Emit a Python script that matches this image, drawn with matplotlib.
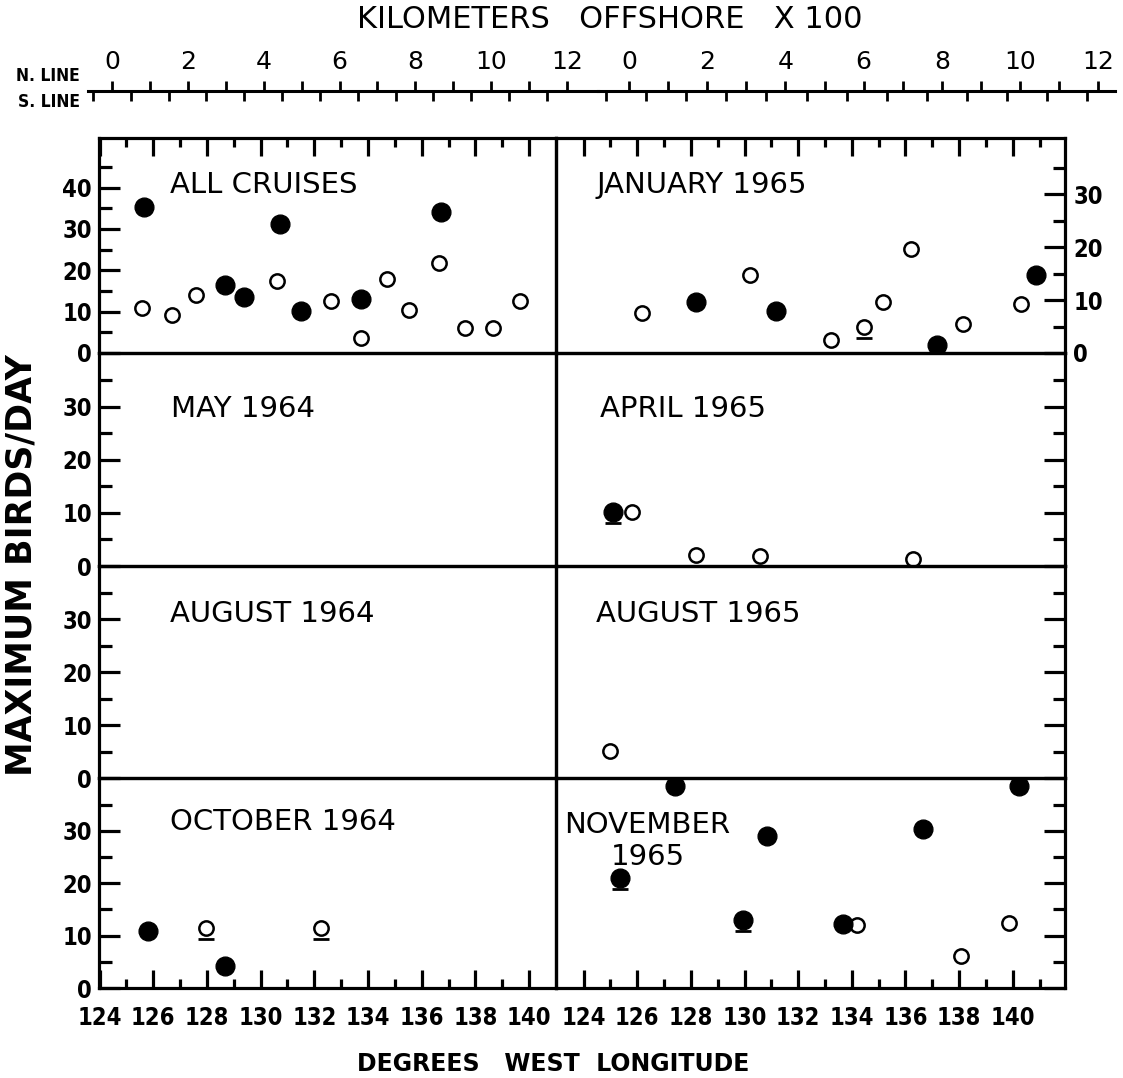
import matplotlib
matplotlib.use("Agg")
import matplotlib.pyplot as plt
from matplotlib.transforms import ScaledTranslation
from matplotlib.ticker import FixedLocator, NullFormatter

W, H, DPI = 1123, 1078, 100

# ---------------- data (longitude °W, maximum birds/day) ----------------
all_open_lon = [125.58, 126.69, 127.6, 130.6, 132.63, 133.74, 134.7, 135.53, 136.64, 137.6, 138.65, 139.66]
all_open_val = [11.0, 9.2, 14.0, 17.5, 12.6, 3.6, 18.0, 10.4, 21.7, 6.0, 6.0, 12.6]
all_fill_lon = [125.67, 128.66, 129.37, 130.72, 131.5, 133.74, 136.7]
all_fill_val = [35.2, 16.5, 13.6, 31.2, 10.2, 13.0, 34.0]

jan_open_lon = [126.17, 130.22, 133.21, 134.44, 135.15, 136.19, 138.14, 140.3]
jan_open_val = [7.6, 14.7, 2.4, 4.9, 9.6, 19.6, 5.4, 9.2]
jan_open_und = [0, 0, 0, 1, 0, 0, 0, 0]
jan_fill_lon = [128.2, 131.16, 137.18, 140.86]
jan_fill_val = [9.6, 7.9, 1.6, 14.8]

apr_open_lon = [125.79, 128.18, 130.57, 136.29]
apr_open_val = [10.1, 2.1, 1.9, 1.3]
apr_fill_lon = [125.11]
apr_fill_val = [10.2]
apr_fill_und = [1]

aug65_open_lon = [124.98]
aug65_open_val = [5.1]

oct_open_lon = [127.97, 132.24]
oct_open_val = [11.4, 11.5]
oct_open_und = [1, 1]
oct_fill_lon = [125.79, 128.69]
oct_fill_val = [10.9, 4.2]

nov_open_lon = [134.2, 138.06, 139.88]
nov_open_val = [12.1, 6.2, 12.4]
nov_fill_lon = [125.35, 127.42, 129.94, 130.83, 133.69, 136.65, 140.25]
nov_fill_val = [21.0, 38.6, 12.9, 29.1, 12.3, 30.4, 38.6]
nov_fill_und = [1, 0, 1, 0, 0, 0, 0]

titles = [["ALL CRUISES", "JANUARY 1965"],
          ["MAY 1964", "APRIL 1965"],
          ["AUGUST 1964", "AUGUST 1965"],
          ["OCTOBER 1964", "NOVEMBER\n1965"]]

lon_major = [124, 126, 128, 130, 132, 134, 136, 138, 140]
lon_minor = [125, 127, 129, 131, 133, 135, 137, 139, 141]
km_major = [0, 2, 4, 6, 8, 10, 12]
km_all = list(range(0, 13))

# ---------------- layout ----------------
fig = plt.figure(figsize=(W / DPI, H / DPI), dpi=DPI)
fig.patch.set_facecolor("white")

def rect(x0, y0, x1, y1):
    return [x0 / W, 1 - y1 / H, (x1 - x0) / W, (y1 - y0) / H]

XL, XC, XR = 99, 556, 1065
ROWS = [138, 353, 566, 778, 988]
LW = 2.3
TICKFAM = ["DejaVu Sans"]
TITLEFONT = dict(family=["DejaVu Sans"], size=21)

axes = []
for r in range(4):
    row = []
    for c in range(2):
        x0, x1 = (XL, XC) if c == 0 else (XC, XR)
        ax = fig.add_axes(rect(x0, ROWS[r], x1, ROWS[r + 1]))
        ax.set_xlim((123.98, 141.0) if c == 0 else (122.97, 141.95))
        if r == 0 and c == 0:
            ax.set_ylim(0, 52)
        elif r == 0:
            ax.set_ylim(0, 40.6)
        else:
            ax.set_ylim(0, 40.1)
        for s in ax.spines.values():
            s.set_linewidth(LW)
        ax.patch.set_alpha(0)
        # x ticks
        ax.xaxis.set_major_locator(FixedLocator(lon_major))
        ax.xaxis.set_minor_locator(FixedLocator(lon_minor if c == 1 else lon_minor[:-1]))
        ax.tick_params(axis="x", which="both", direction="in", width=LW,
                       top=(r == 0), bottom=(r == 3), labeltop=False, labelbottom=(r == 3))
        ax.tick_params(axis="x", which="major", length=13, pad=13)
        ax.tick_params(axis="x", which="minor", length=6.5)
        # y ticks
        ymaj = [0, 10, 20, 30, 40] if (r == 0 and c == 0) else [0, 10, 20, 30]
        ymin = [5, 15, 25, 35, 45] if (r == 0 and c == 0) else [5, 15, 25, 35]
        ax.yaxis.set_major_locator(FixedLocator(ymaj))
        ax.yaxis.set_minor_locator(FixedLocator(ymin))
        ax.yaxis.set_minor_formatter(NullFormatter())
        if c == 0:
            ax.tick_params(axis="y", which="both", direction="in", width=LW,
                           left=True, right=False, labelleft=True, labelright=False, pad=5)
        else:
            ax.tick_params(axis="y", which="both", direction="in", width=LW,
                           left=False, right=True, labelleft=False, labelright=(r == 0), pad=6)
        ax.tick_params(axis="y", which="major", length=15)
        ax.tick_params(axis="y", which="minor", length=9)
        for lab in ax.get_xticklabels() + ax.get_yticklabels():
            lab.set_fontfamily(TICKFAM)
            lab.set_fontweight("bold")
            lab.set_fontstretch("condensed")
            lab.set_fontsize(17)
        row.append(ax)
    axes.append(row)

# titles
title_pos = {(0, 0): (0.155, 0.78), (0, 1): (0.08, 0.78),
             (1, 0): (0.157, 0.735), (1, 1): (0.086, 0.735),
             (2, 0): (0.155, 0.775), (2, 1): (0.079, 0.775),
             (3, 0): (0.155, 0.79)}
for (r, c), (tx, ty) in title_pos.items():
    axes[r][c].text(tx, ty, titles[r][c], transform=axes[r][c].transAxes,
                    ha="left", va="center", **TITLEFONT)
axes[3][1].text(0.18, 0.70, titles[3][1], transform=axes[3][1].transAxes,
                ha="center", va="center", multialignment="center",
                linespacing=1.2, **TITLEFONT)

# markers
FILL = dict(marker="o", ms=13.5, mfc="black", mec="black", mew=1, ls="none")
OPEN = dict(marker="o", ms=10.3, mfc="white", mec="black", mew=1.8, ls="none")

def draw(ax, lon, val, style, und=None):
    ax.plot(lon, val, **style)
    if und:
        ux = [x for x, u in zip(lon, und) if u]
        uy = [y for y, u in zip(val, und) if u]
        off = ScaledTranslation(0, -11 / DPI, fig.dpi_scale_trans)
        ax.plot(ux, uy, marker="_", ms=11.5, mew=2.0, color="black", ls="none",
                transform=ax.transData + off)

draw(axes[0][0], all_open_lon, all_open_val, OPEN)
draw(axes[0][0], all_fill_lon, all_fill_val, FILL)
draw(axes[0][1], jan_open_lon, jan_open_val, OPEN, jan_open_und)
draw(axes[0][1], jan_fill_lon, jan_fill_val, FILL)
draw(axes[1][1], apr_open_lon, apr_open_val, OPEN)
draw(axes[1][1], apr_fill_lon, apr_fill_val, FILL, apr_fill_und)
draw(axes[2][1], aug65_open_lon, aug65_open_val, OPEN)
draw(axes[3][0], oct_open_lon, oct_open_val, OPEN, oct_open_und)
draw(axes[3][0], oct_fill_lon, oct_fill_val, FILL)
draw(axes[3][1], nov_open_lon, nov_open_val, OPEN)
draw(axes[3][1], nov_fill_lon, nov_fill_val, FILL, nov_fill_und)

# axis labels
fig.text(22 / W, 1 - 565 / H, "MAXIMUM BIRDS/DAY", rotation=90, ha="center", va="center",
         family=["DejaVu Sans"], weight="bold", size=25)
fig.text(553 / W, 1 - 1064 / H, "DEGREES   WEST  LONGITUDE", ha="center", va="center",
         family=["DejaVu Sans"], weight="bold", size=17)

# ---------------- kilometers offshore scale ----------------
LINE_Y = 91
halves = [  # (px start, px end, N 0 px, N px/unit, S 0 px, S px/unit)
    (88, 598, 112, 37.92, 93, 37.83),
    (598, 1115, 629, 39.1, 606, 40.1),
]
for (p0, p1, n0, ns, s0, ss) in halves:
    r_ = [p0 / W, 1 - LINE_Y / H, (p1 - p0) / W, 0.0001]
    axn = fig.add_axes(r_)
    axn.set_xlim((p0 - n0) / ns, (p1 - n0) / ns)
    axn.set_yticks([])
    for k in ("left", "right", "bottom"):
        axn.spines[k].set_visible(False)
    axn.spines["top"].set_linewidth(2.2)
    axn.xaxis.tick_top()
    axn.xaxis.set_major_locator(FixedLocator(km_major))
    axn.xaxis.set_minor_locator(FixedLocator([k for k in km_all if k % 2]))
    axn.tick_params(axis="x", which="both", direction="out", length=7, width=2.0, pad=5)
    for lab in axn.get_xticklabels():
        lab.set_fontfamily(["DejaVu Sans"])
        lab.set_fontsize(18)
    axn.patch.set_alpha(0)

    axs = fig.add_axes(r_)
    axs.set_xlim((p0 - s0) / ss, (p1 - s0) / ss)
    axs.set_yticks([])
    for k in axs.spines:
        axs.spines[k].set_visible(False)
    axs.xaxis.set_major_locator(FixedLocator(km_all))
    axs.tick_params(axis="x", which="both", direction="out", length=7, width=2.0,
                    labelbottom=False, bottom=True)
    axs.patch.set_alpha(0)

fig.text(80 / W, 1 - 76 / H, "N. LINE", ha="right", va="center",
         family=["DejaVu Sans"], stretch="condensed", weight="bold", size=12.5)
fig.text(80 / W, 1 - 102 / H, "S. LINE", ha="right", va="center",
         family=["DejaVu Sans"], stretch="condensed", weight="bold", size=12.5)
fig.text(610 / W, 1 - 19 / H, "KILOMETERS   OFFSHORE   X 100", ha="center", va="center",
         family=["DejaVu Sans"], size=22)

fig.savefig("out.png", dpi=DPI, facecolor="white")
